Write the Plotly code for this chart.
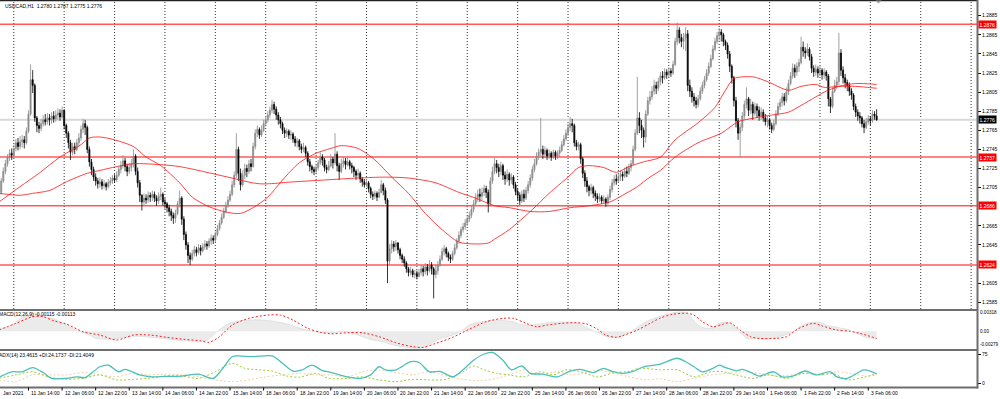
import plotly.graph_objects as go
from datetime import datetime, timedelta

# ---------------- data ----------------
SYMBOL = "USDCAD,H1"
LAST_OHLC = [1.2780, 1.2787, 1.2775, 1.2776]
FIRST_OPEN = 1.2694

CLOSE = [1.2700,1.2712,1.2722,1.2730,1.2737,1.2741,1.2739,1.2746,1.2752,1.2748,
 1.2753,1.2755,1.2752,1.2764,1.2782,1.2818,1.2812,1.2778,1.2770,1.2767,
 1.2772,1.2776,1.2774,1.2778,1.2776,1.2780,1.2777,1.2781,1.2783,1.2779,
 1.2786,1.2770,1.2762,1.2752,1.2742,1.2748,1.2745,1.2752,1.2757,1.2766,
 1.2772,1.2768,1.2745,1.2732,1.2724,1.2716,1.2712,1.2709,1.2711,1.2707,
 1.2709,1.2706,1.2710,1.2712,1.2715,1.2713,1.2718,1.2724,1.2728,1.2733,
 1.2727,1.2722,1.2726,1.2730,1.2738,1.2722,1.2710,1.2697,1.2690,1.2694,
 1.2692,1.2697,1.2695,1.2698,1.2694,1.2691,1.2696,1.2698,1.2690,1.2688,
 1.2684,1.2680,1.2676,1.2673,1.2678,1.2688,1.2694,1.2672,1.2656,1.2645,
 1.2634,1.2630,1.2636,1.2640,1.2637,1.2642,1.2639,1.2643,1.2646,1.2644,
 1.2649,1.2652,1.2650,1.2656,1.2662,1.2668,1.2674,1.2680,1.2686,1.2692,
 1.2698,1.2708,1.2718,1.2745,1.2720,1.2708,1.2718,1.2725,1.2722,1.2730,
 1.2727,1.2748,1.2762,1.2766,1.2760,1.2765,1.2772,1.2776,1.2781,1.2786,
 1.2792,1.2787,1.2781,1.2776,1.2772,1.2765,1.2762,1.2764,1.2760,1.2761,
 1.2756,1.2752,1.2754,1.2748,1.2745,1.2747,1.2741,1.2732,1.2727,1.2724,
 1.2722,1.2726,1.2731,1.2737,1.2734,1.2726,1.2724,1.2728,1.2735,1.2731,
 1.2740,1.2728,1.2722,1.2730,1.2733,1.2729,1.2732,1.2728,1.2726,1.2722,
 1.2718,1.2720,1.2714,1.2711,1.2708,1.2710,1.2704,1.2698,1.2696,1.2699,
 1.2695,1.2700,1.2708,1.2702,1.2692,1.2628,1.2641,1.2646,1.2643,1.2647,
 1.2640,1.2634,1.2630,1.2626,1.2620,1.2616,1.2618,1.2614,1.2615,1.2612,
 1.2616,1.2620,1.2617,1.2622,1.2618,1.2624,1.2620,1.2614,1.2618,1.2624,
 1.2630,1.2638,1.2641,1.2636,1.2632,1.2630,1.2636,1.2642,1.2649,1.2655,
 1.2661,1.2664,1.2668,1.2672,1.2676,1.2682,1.2688,1.2694,1.2698,1.2696,
 1.2700,1.2704,1.2700,1.2688,1.2712,1.2722,1.2730,1.2726,1.2722,1.2728,
 1.2718,1.2714,1.2719,1.2713,1.2716,1.2708,1.2701,1.2697,1.2691,1.2698,
 1.2694,1.2702,1.2708,1.2715,1.2724,1.2730,1.2738,1.2742,1.2745,1.2740,
 1.2744,1.2738,1.2741,1.2737,1.2742,1.2738,1.2741,1.2744,1.2750,1.2756,
 1.2762,1.2768,1.2772,1.2770,1.2752,1.2748,1.2750,1.2735,1.2720,1.2712,
 1.2706,1.2702,1.2705,1.2699,1.2696,1.2693,1.2695,1.2691,1.2693,1.2689,
 1.2695,1.2703,1.2710,1.2714,1.2712,1.2716,1.2719,1.2717,1.2722,1.2720,
 1.2726,1.2730,1.2745,1.2762,1.2778,1.2770,1.2765,1.2758,1.2782,1.2796,
 1.2800,1.2806,1.2812,1.2809,1.2816,1.2822,1.2820,1.2826,1.2823,1.2827,
 1.2825,1.2834,1.2858,1.2870,1.2862,1.2858,1.2862,1.2866,1.2812,1.2806,
 1.2800,1.2796,1.2792,1.2798,1.2806,1.2812,1.2818,1.2825,1.2832,1.2840,
 1.2850,1.2858,1.2864,1.2868,1.2865,1.2858,1.2854,1.2845,1.2832,1.2820,
 1.2796,1.2775,1.2762,1.2768,1.2780,1.2792,1.2798,1.2786,1.2792,1.2783,
 1.2790,1.2786,1.2780,1.2784,1.2778,1.2774,1.2776,1.2770,1.2766,1.2772,
 1.2782,1.2790,1.2794,1.2800,1.2796,1.2805,1.2814,1.2822,1.2830,1.2826,
 1.2832,1.2836,1.2852,1.2848,1.2846,1.2850,1.2842,1.2830,1.2826,1.2829,
 1.2825,1.2828,1.2823,1.2826,1.2822,1.2798,1.2790,1.2806,1.2812,1.2816,
 1.2846,1.2828,1.2820,1.2815,1.2812,1.2806,1.2802,1.2790,1.2784,1.2780,
 1.2778,1.2772,1.2768,1.2774,1.2777,1.2775,1.2782,1.2780,1.2776]

HIGH = [1.2706,1.2715,1.2726,1.2734,1.2740,1.2745,1.2746,1.2750,1.2756,1.2757,
 1.2759,1.2760,1.2759,1.2768,1.2786,1.2834,1.2828,1.2814,1.2780,1.2774,
 1.2777,1.2781,1.2782,1.2783,1.2782,1.2784,1.2785,1.2786,1.2788,1.2787,
 1.2790,1.2787,1.2772,1.2764,1.2755,1.2752,1.2752,1.2756,1.2762,1.2770,
 1.2777,1.2776,1.2770,1.2748,1.2735,1.2727,1.2720,1.2715,1.2716,1.2714,
 1.2713,1.2711,1.2714,1.2716,1.2718,1.2719,1.2722,1.2727,1.2733,1.2739,
 1.2736,1.2730,1.2731,1.2735,1.2745,1.2740,1.2726,1.2713,1.2698,1.2699,
 1.2698,1.2701,1.2700,1.2702,1.2701,1.2697,1.2700,1.2705,1.2700,1.2694,
 1.2690,1.2687,1.2683,1.2679,1.2682,1.2691,1.2702,1.2696,1.2675,1.2659,
 1.2648,1.2637,1.2640,1.2644,1.2643,1.2646,1.2645,1.2647,1.2650,1.2649,
 1.2652,1.2656,1.2655,1.2659,1.2666,1.2671,1.2678,1.2684,1.2690,1.2696,
 1.2702,1.2712,1.2722,1.2762,1.2748,1.2725,1.2723,1.2730,1.2729,1.2734,
 1.2735,1.2752,1.2766,1.2770,1.2768,1.2770,1.2776,1.2780,1.2785,1.2790,
 1.2797,1.2795,1.2790,1.2784,1.2779,1.2774,1.2768,1.2767,1.2766,1.2765,
 1.2763,1.2759,1.2757,1.2756,1.2751,1.2752,1.2749,1.2743,1.2735,1.2729,
 1.2727,1.2730,1.2734,1.2742,1.2740,1.2736,1.2729,1.2733,1.2740,1.2737,
 1.2762,1.2743,1.2731,1.2735,1.2737,1.2736,1.2737,1.2734,1.2731,1.2728,
 1.2724,1.2725,1.2722,1.2716,1.2714,1.2714,1.2712,1.2706,1.2701,1.2702,
 1.2701,1.2704,1.2713,1.2710,1.2705,1.2694,1.2646,1.2650,1.2649,1.2650,
 1.2648,1.2642,1.2636,1.2633,1.2628,1.2622,1.2622,1.2620,1.2619,1.2618,
 1.2620,1.2624,1.2623,1.2626,1.2625,1.2629,1.2627,1.2622,1.2624,1.2628,
 1.2634,1.2642,1.2645,1.2643,1.2638,1.2635,1.2639,1.2646,1.2652,1.2659,
 1.2664,1.2668,1.2672,1.2676,1.2680,1.2686,1.2692,1.2699,1.2703,1.2704,
 1.2705,1.2708,1.2707,1.2703,1.2716,1.2727,1.2736,1.2734,1.2730,1.2732,
 1.2730,1.2722,1.2724,1.2721,1.2720,1.2718,1.2711,1.2704,1.2700,1.2702,
 1.2703,1.2706,1.2712,1.2719,1.2728,1.2735,1.2742,1.2746,1.2778,1.2749,
 1.2748,1.2746,1.2745,1.2743,1.2745,1.2744,1.2744,1.2748,1.2754,1.2760,
 1.2766,1.2772,1.2779,1.2777,1.2772,1.2755,1.2753,1.2752,1.2737,1.2723,
 1.2716,1.2708,1.2709,1.2707,1.2702,1.2699,1.2699,1.2697,1.2697,1.2695,
 1.2698,1.2707,1.2714,1.2718,1.2719,1.2720,1.2723,1.2722,1.2726,1.2727,
 1.2730,1.2734,1.2749,1.2766,1.2821,1.2784,1.2776,1.2768,1.2786,1.2800,
 1.2806,1.2811,1.2818,1.2816,1.2820,1.2826,1.2827,1.2830,1.2829,1.2831,
 1.2830,1.2838,1.2862,1.2878,1.2873,1.2866,1.2867,1.2873,1.2870,1.2818,
 1.2810,1.2804,1.2800,1.2802,1.2810,1.2816,1.2822,1.2829,1.2836,1.2844,
 1.2854,1.2862,1.2868,1.2872,1.2871,1.2867,1.2860,1.2857,1.2848,1.2834,
 1.2822,1.2800,1.2778,1.2772,1.2784,1.2796,1.2810,1.2800,1.2798,1.2795,
 1.2794,1.2793,1.2790,1.2789,1.2787,1.2782,1.2780,1.2778,1.2773,1.2776,
 1.2786,1.2794,1.2798,1.2804,1.2804,1.2810,1.2818,1.2826,1.2835,1.2834,
 1.2836,1.2840,1.2863,1.2858,1.2852,1.2856,1.2852,1.2845,1.2833,1.2834,
 1.2832,1.2833,1.2830,1.2830,1.2828,1.2824,1.2800,1.2810,1.2818,1.2821,
 1.2867,1.2850,1.2832,1.2824,1.2818,1.2815,1.2809,1.2804,1.2793,1.2787,
 1.2784,1.2780,1.2776,1.2778,1.2781,1.2780,1.2786,1.2785,1.2787]

LOW = [1.2693,1.2698,1.2710,1.2719,1.2727,1.2733,1.2734,1.2737,1.2743,1.2744,
 1.2745,1.2747,1.2746,1.2750,1.2762,1.2780,1.2804,1.2774,1.2763,1.2762,
 1.2764,1.2769,1.2770,1.2771,1.2770,1.2772,1.2773,1.2774,1.2776,1.2775,
 1.2777,1.2766,1.2757,1.2746,1.2734,1.2739,1.2740,1.2743,1.2748,1.2754,
 1.2762,1.2760,1.2741,1.2727,1.2718,1.2712,1.2707,1.2704,1.2705,1.2703,
 1.2704,1.2702,1.2704,1.2707,1.2709,1.2710,1.2711,1.2716,1.2720,1.2725,
 1.2722,1.2717,1.2719,1.2722,1.2726,1.2718,1.2705,1.2690,1.2681,1.2686,
 1.2688,1.2689,1.2690,1.2691,1.2690,1.2686,1.2688,1.2692,1.2686,1.2683,
 1.2679,1.2675,1.2670,1.2667,1.2668,1.2676,1.2684,1.2666,1.2650,1.2640,
 1.2626,1.2624,1.2628,1.2633,1.2633,1.2635,1.2634,1.2637,1.2640,1.2640,
 1.2642,1.2645,1.2646,1.2648,1.2654,1.2660,1.2666,1.2672,1.2678,1.2684,
 1.2690,1.2696,1.2705,1.2715,1.2712,1.2702,1.2706,1.2714,1.2716,1.2719,
 1.2722,1.2726,1.2745,1.2758,1.2756,1.2758,1.2763,1.2769,1.2773,1.2778,
 1.2783,1.2782,1.2776,1.2771,1.2767,1.2761,1.2757,1.2758,1.2756,1.2755,
 1.2752,1.2748,1.2747,1.2744,1.2741,1.2742,1.2737,1.2728,1.2722,1.2720,
 1.2718,1.2719,1.2723,1.2729,1.2728,1.2722,1.2720,1.2722,1.2726,1.2725,
 1.2729,1.2722,1.2713,1.2720,1.2726,1.2724,1.2727,1.2724,1.2720,1.2716,
 1.2713,1.2715,1.2710,1.2706,1.2705,1.2706,1.2700,1.2694,1.2692,1.2693,
 1.2691,1.2694,1.2699,1.2697,1.2688,1.2605,1.2624,1.2636,1.2638,1.2639,
 1.2636,1.2630,1.2626,1.2622,1.2616,1.2612,1.2613,1.2611,1.2610,1.2609,
 1.2611,1.2613,1.2612,1.2614,1.2613,1.2616,1.2614,1.2589,1.2610,1.2614,
 1.2622,1.2628,1.2634,1.2632,1.2628,1.2626,1.2628,1.2634,1.2640,1.2646,
 1.2652,1.2658,1.2661,1.2665,1.2669,1.2673,1.2679,1.2686,1.2690,1.2690,
 1.2692,1.2696,1.2694,1.2679,1.2686,1.2709,1.2719,1.2720,1.2716,1.2718,
 1.2713,1.2708,1.2711,1.2707,1.2709,1.2704,1.2697,1.2692,1.2687,1.2689,
 1.2690,1.2692,1.2699,1.2705,1.2712,1.2721,1.2728,1.2734,1.2738,1.2735,
 1.2736,1.2734,1.2735,1.2733,1.2735,1.2734,1.2735,1.2737,1.2742,1.2748,
 1.2754,1.2759,1.2764,1.2763,1.2748,1.2744,1.2744,1.2730,1.2715,1.2706,
 1.2700,1.2696,1.2698,1.2694,1.2691,1.2689,1.2690,1.2688,1.2689,1.2685,
 1.2686,1.2692,1.2700,1.2707,1.2708,1.2710,1.2712,1.2712,1.2715,1.2716,
 1.2718,1.2722,1.2728,1.2743,1.2760,1.2762,1.2757,1.2747,1.2752,1.2780,
 1.2792,1.2797,1.2802,1.2803,1.2806,1.2812,1.2814,1.2818,1.2819,1.2820,
 1.2821,1.2823,1.2832,1.2854,1.2856,1.2852,1.2850,1.2848,1.2806,1.2800,
 1.2794,1.2790,1.2788,1.2789,1.2796,1.2803,1.2809,1.2816,1.2822,1.2830,
 1.2838,1.2848,1.2855,1.2859,1.2858,1.2853,1.2849,1.2840,1.2826,1.2814,
 1.2790,1.2768,1.2755,1.2737,1.2764,1.2777,1.2788,1.2780,1.2782,1.2776,
 1.2780,1.2778,1.2775,1.2776,1.2774,1.2770,1.2768,1.2766,1.2762,1.2764,
 1.2770,1.2780,1.2786,1.2790,1.2791,1.2794,1.2802,1.2812,1.2819,1.2820,
 1.2822,1.2826,1.2834,1.2842,1.2840,1.2843,1.2838,1.2825,1.2821,1.2822,
 1.2820,1.2822,1.2818,1.2819,1.2817,1.2790,1.2783,1.2788,1.2804,1.2808,
 1.2812,1.2822,1.2814,1.2809,1.2806,1.2801,1.2797,1.2786,1.2779,1.2775,
 1.2772,1.2768,1.2762,1.2766,1.2771,1.2770,1.2773,1.2776,1.2775]

# moving averages (sampled along the curves)
MA_FAST_BAR = [0,10,19,29,39,43,48,55,64,70,77,86,92,100,109,115,121,128,135,143,
 151,158,163,171,179,187,195,203,211,219,227,233,236,243,254,262,271,276,281,288,
 294,300,307,315,322,333,341,346,350,359,366,376,382,389,393,400,408,418]
MA_FAST = [1.2690,1.2706,1.2720,1.2737,1.2750,1.2757,1.2758,1.2755,1.2748,1.2737,
 1.2728,1.2710,1.2695,1.2685,1.2679,1.2678,1.2684,1.2695,1.2713,1.2731,
 1.2741,1.2746,1.2749,1.2746,1.2734,1.2716,1.2699,1.2678,1.2661,1.2648,
 1.2646,1.2647,1.2651,1.2661,1.2682,1.2699,1.2716,1.2726,1.2728,1.2726,
 1.2721,1.2727,1.2732,1.2737,1.2755,1.2773,1.2789,1.2807,1.2819,1.2821,
 1.2816,1.2807,1.2811,1.2813,1.2810,1.2811,1.2811,1.2809]
MA_SLOW_BAR = [0,10,16,24,32,42,48,56,64,77,86,109,124,140,155,171,184,195,208,219,
 227,236,243,253,262,272,281,291,297,304,310,315,322,333,344,352,360,368,376,382,
 389,393,400,408,418]
MA_SLOW = [1.2699,1.2697,1.2699,1.2702,1.2711,1.2720,1.2723,1.2727,1.2730,1.2729,
 1.2727,1.2716,1.2709,1.2711,1.2713,1.2715,1.2716,1.2715,1.2710,1.2700,
 1.2694,1.2686,1.2684,1.2680,1.2680,1.2684,1.2686,1.2690,1.2697,1.2706,
 1.2716,1.2723,1.2737,1.2752,1.2762,1.2774,1.2778,1.2781,1.2784,1.2791,
 1.2800,1.2805,1.2811,1.2814,1.2813]

# MACD(12,26,9)
MACD_BAR = [0,3,7,10,13,16,18,21,26,29,32,35,38,42,46,53,59,64,72,80,
 88,96,99,102,105,110,115,123,128,134,139,143,148,153,158,165,170,177,183,186,
 191,197,202,205,210,216,220,224,232,239,245,248,253,256,264,270,277,281,285,289,
 294,299,304,308,315,318,323,328,329,332,335,340,343,347,350,353,356,362,367,372,
 377,380,385,391,394,401,405,409,413,418]
MACD_MAIN = [0.00045,0.00060,0.00110,0.00202,0.00240,0.00281,0.00281,0.00230,0.00202,0.00150,
 0.00097,0.00045,0.0,-0.00040,-0.00112,-0.00125,-0.00100,-0.00080,-0.00095,-0.00120,
 -0.00150,-0.00160,-0.00140,-0.00060,0.00030,0.00130,0.00165,0.00180,0.00170,0.00140,
 0.00097,0.00050,0.00010,-0.00020,-0.00025,-0.00010,-0.00050,-0.00130,-0.00165,-0.00200,
 -0.00240,-0.00265,-0.00260,-0.00200,-0.00120,-0.00060,0.0,0.00100,0.00160,0.00170,
 0.00150,0.00110,0.00090,0.00110,0.00140,0.00145,0.00110,0.00040,-0.00020,-0.00080,
 -0.00100,-0.00040,0.00060,0.00150,0.00235,0.00270,0.00300,0.00290,0.00240,0.00120,
 0.00060,0.00050,0.00130,0.00140,0.00080,-0.00020,-0.00110,-0.00120,-0.00120,-0.00080,
 -0.00030,0.00040,0.00130,0.00140,0.00100,0.00050,0.00020,-0.00040,-0.00100,-0.00115]
SIGNAL_BAR = [0,8,16,21,26,32,40,48,56,64,72,80,88,96,100,105,111,119,128,134,
 140,147,153,158,166,173,181,189,197,202,208,216,224,232,240,245,251,256,261,268,
 275,280,285,289,294,297,304,310,315,321,328,331,335,340,345,348,353,358,362,370,
 375,381,388,392,399,405,410,418]
MACD_SIGNAL = [0.00019,0.00124,0.00228,0.00228,0.00165,0.00113,-0.00008,-0.00060,-0.00138,-0.00060,
 -0.00060,-0.00096,-0.00127,-0.00149,-0.00174,-0.00086,0.00097,0.00203,0.00254,0.00254,
 0.00176,0.00046,-0.00017,-0.00040,-0.00023,-0.00023,-0.00086,-0.00180,-0.00243,-0.00254,
 -0.00190,-0.00096,0.00032,0.00150,0.00202,0.00202,0.00124,0.00071,0.00097,0.00124,
 0.00134,0.00113,0.00032,-0.00060,-0.00096,-0.00070,0.00019,0.00124,0.00208,0.00267,
 0.00281,0.00254,0.00150,0.00071,0.00113,0.00134,0.00019,-0.00086,-0.00112,-0.00112,
 -0.00086,0.00045,0.00124,0.00084,0.00019,0.0,-0.00033,-0.00113]
MACD_SCALE_LABELS = ["0.00318", "0.00", "-0.00279"]
MACD_SCALE_VALUES = [0.00318, 0.0, -0.00279]

# ADX(14)
ADX_BAR = [0,6,11,16,21,25,32,37,41,48,52,57,60,67,73,79,87,95,102,106,
 111,114,121,130,135,140,144,149,154,157,166,172,177,181,184,189,196,200,205,210,
 216,221,226,231,235,240,244,249,253,259,266,272,277,283,288,292,297,302,307,315,
 323,327,331,335,340,343,346,351,354,359,362,369,373,378,384,389,396,399,404,412,418]
ADX = [15,29,29,40,27,12,12,16,14,42,46,29,35,21,16,17,18,23,12,34,
 68,70,68,70,51,31,33,46,32,29,16,12,21,42,34,34,55,53,29,30,
 16,34,59,75,79,59,34,44,25,23,16,31,35,27,38,30,25,30,42,49,
 64,55,42,29,38,46,40,32,35,25,18,29,16,18,31,21,29,16,12,34,23.46]
PDI_BAR = [0,8,16,24,32,40,48,56,64,71,79,87,95,103,111,117,124,130,137,143,
 151,157,166,173,181,189,197,205,213,221,226,231,237,243,250,258,264,270,277,285,
 293,299,305,315,323,331,339,345,351,359,367,375,383,391,397,404,412,418]
PDI = [12,21,29,15,9.5,12,21,8,9.5,12,18,18,12,29,51,38,34,31,18,15,
 25,12,12,16,8,3.4,9.5,8,9.5,29,44,34,25,21,16,29,21,34,29,16,
 27,29,38,34,34,16,29,29,21,12,21,12,25,21,25,8,15,24.17]
MDI_BAR = [0,8,16,24,32,40,48,56,64,71,79,87,95,103,111,119,127,135,143,151,
 158,166,173,181,189,197,205,213,221,229,237,245,250,256,266,272,278,285,293,300,
 308,315,323,331,339,347,354,362,370,378,386,394,399,407,413,418]
MDI = [8,3.4,21,21,21,27,21,16,25,21,23,21,16,8,3.4,8,16,21,25,21,
 21,16,29,34,27,21,29,18,9.5,6,12,25,34,21,29,21,25,34,25,16,
 8,11,3.4,12,21,25,29,25,18,21,25,21,29,23,18,21.40]

LEVELS = [1.2876, 1.2737, 1.2686, 1.2624]
# price scale labels visible in the reference (1.2685 / 1.2625 are hidden under level boxes)
PRICE_TICKS = [1.2885,1.2865,1.2845,1.2825,1.2805,1.2785,1.2765,1.2745,
 1.2725,1.2705,1.2665,1.2645,1.2605,1.2585]
FIRST_TIME_LABEL = "Jan 2021"   # visible part of the first (edge-clipped) time label
TIME_LABELS = ["11 Jan 14:00","12 Jan 06:00","12 Jan 22:00","13 Jan 14:00","14 Jan 06:00",
 "14 Jan 22:00","15 Jan 14:00","18 Jan 06:00","18 Jan 22:00","19 Jan 14:00","20 Jan 06:00",
 "20 Jan 22:00","21 Jan 14:00","22 Jan 06:00","22 Jan 22:00","25 Jan 14:00","26 Jan 06:00",
 "26 Jan 22:00","27 Jan 14:00","28 Jan 06:00","28 Jan 22:00","29 Jan 14:00","1 Feb 06:00",
 "1 Feb 22:00","2 Feb 14:00","3 Feb 06:00"]
MACD_TITLE = "MACD(12,26,9) -0.00115 -0.00113"
ADX_TITLE = "ADX(14) 23.4615 +DI:24.1737 -DI:21.4049"

# ---------------- layout helpers ----------------
W, H = 1000, 399
FONT = "Liberation Sans, Arial, sans-serif"


def py(px):
    return 1 - px / H


X_END = 0.977
MAIN_DOM = [py(309), py(1)]
MACD_DOM = [py(349), py(311)]
ADX_DOM = [py(387), py(351)]

# hourly bar clock (weekends skipped) starting at the first bar
times = []
t = datetime(2021, 1, 11, 0)
while len(times) < 480:
    if t.weekday() < 5:
        times.append(t)
    t += timedelta(hours=1)
bar_of = {f"{d.day} {d.strftime('%b')} {d.strftime('%H:%M')}": i for i, d in enumerate(times)}

bars = list(range(len(CLOSE)))
OPEN = [FIRST_OPEN] + CLOSE[:-1]

fig = go.Figure()

fig.add_trace(go.Candlestick(
    x=bars, open=OPEN, high=HIGH, low=LOW, close=CLOSE,
    increasing=dict(line=dict(color="#8a8a8a", width=0.8), fillcolor="#8a8a8a"),
    decreasing=dict(line=dict(color="#000000", width=0.8), fillcolor="#000000"),
    whiskerwidth=0, xaxis="x", yaxis="y", showlegend=False))

for bx, vals in ((MA_FAST_BAR, MA_FAST), (MA_SLOW_BAR, MA_SLOW)):
    fig.add_trace(go.Scatter(x=bx, y=vals, mode="lines", xaxis="x", yaxis="y",
                             line=dict(color="rgba(255,20,20,0.8)", width=1, shape="spline", smoothing=0.8),
                             hoverinfo="skip", showlegend=False))

# MACD pane
fig.add_trace(go.Scatter(x=MACD_BAR, y=MACD_MAIN, mode="lines", xaxis="x", yaxis="y2",
                         line=dict(color="rgba(180,180,180,0.6)", width=0.5, shape="spline", smoothing=0.7),
                         fill="tozeroy", fillcolor="#d6d6d6",
                         fillpattern=dict(shape="|", size=2, solidity=0.5, fgcolor="#b0b0b0", bgcolor="white"),
                         hoverinfo="skip", showlegend=False))
fig.add_trace(go.Scatter(x=SIGNAL_BAR, y=MACD_SIGNAL, mode="lines", xaxis="x", yaxis="y2",
                         line=dict(color="#ff2020", width=1, dash="2px,2px", shape="spline", smoothing=0.8),
                         hoverinfo="skip", showlegend=False))

# ADX pane
fig.add_trace(go.Scatter(x=MDI_BAR, y=MDI, mode="lines", xaxis="x", yaxis="y3",
                         line=dict(color="#f2cfa6", width=1, dash="2px,2px", shape="spline", smoothing=0.8),
                         hoverinfo="skip", showlegend=False))
fig.add_trace(go.Scatter(x=PDI_BAR, y=PDI, mode="lines", xaxis="x", yaxis="y3",
                         line=dict(color="#9acd32", width=1, dash="2px,2px", shape="spline", smoothing=0.8),
                         hoverinfo="skip", showlegend=False))
fig.add_trace(go.Scatter(x=ADX_BAR, y=ADX, mode="lines", xaxis="x", yaxis="y3",
                         line=dict(color="#4cbfb9", width=1.3, shape="spline", smoothing=0.8),
                         hoverinfo="skip", showlegend=False))

shapes = []
# vertical dotted grid in the price pane
for g in range(7, 466, 24):
    shapes.append(dict(type="line", xref="x", yref="y domain", x0=g, x1=g, y0=0, y1=1,
                       line=dict(color="#333333", width=1, dash="1px,2px"), layer="below"))
# bid line
shapes.append(dict(type="line", xref="x domain", yref="y", x0=0, x1=1,
                   y0=LAST_OHLC[3], y1=LAST_OHLC[3], line=dict(color="#d9d9d9", width=2), layer="below"))
# horizontal levels
for lv in LEVELS:
    shapes.append(dict(type="line", xref="x domain", yref="y", x0=0, x1=1, y0=lv, y1=lv,
                       line=dict(color="rgba(255,60,60,0.85)", width=1.5), layer="below"))
# pane frames
shapes.append(dict(type="line", xref="paper", yref="paper", x0=0, x1=X_END + 0.001,
                   y0=py(0.5), y1=py(0.5), line=dict(color="#222222", width=1.5)))
for yy in (310, 350, 387.5):
    shapes.append(dict(type="line", xref="paper", yref="paper", x0=0, x1=X_END + 0.001,
                       y0=py(yy), y1=py(yy), line=dict(color="#6e6e6e", width=2)))
shapes.append(dict(type="line", xref="paper", yref="paper", x0=X_END + 0.0005, x1=X_END + 0.0005,
                   y0=py(388.5), y1=py(0), line=dict(color="#6e6e6e", width=2)))
# chart-shift marker
shapes.append(dict(type="path", xref="paper", yref="paper",
                   path=f"M 0.8755 {py(0.5)} L 0.8815 {py(0.5)} L 0.8785 {py(3.5)} Z",
                   fillcolor="#9a9a9a", line=dict(width=0)))

annotations = []
annotations.append(dict(xref="paper", yref="paper", x=0, y=py(5.5), xshift=3, xanchor="left",
                        yanchor="middle", showarrow=False,
                        text=f"{SYMBOL}  " + " ".join(f"{v:.4f}" for v in LAST_OHLC),
                        font=dict(family=FONT, size=5, color="#000")))
for lv in LEVELS:
    annotations.append(dict(xref="paper", yref="y", x=X_END + 0.001, y=lv, xanchor="left",
                            yanchor="middle", showarrow=False, text=f"{lv:.4f}", bgcolor="#ff0000",
                            borderpad=0.6, font=dict(family=FONT, size=5, color="#ffffff")))
annotations.append(dict(xref="paper", yref="y", x=X_END + 0.001, y=LAST_OHLC[3], xanchor="left",
                        yanchor="middle", showarrow=False, text=f"{LAST_OHLC[3]:.4f}", bgcolor="#000000",
                        borderpad=0.6, font=dict(family=FONT, size=5, color="#ffffff")))
annotations.append(dict(xref="paper", yref="paper", x=0, y=py(314), xshift=-3, xanchor="left",
                        yanchor="middle", showarrow=False, text=MACD_TITLE,
                        font=dict(family=FONT, size=5, color="#000")))
annotations.append(dict(xref="paper", yref="paper", x=0, y=py(354.5), xshift=-3, xanchor="left",
                        yanchor="middle", showarrow=False, text=ADX_TITLE,
                        font=dict(family=FONT, size=5, color="#000")))
for txt, val, sh in zip(MACD_SCALE_LABELS, MACD_SCALE_VALUES, (-1.5, -0.5, 4.5)):
    annotations.append(dict(xref="paper", yref="y2", x=X_END + 0.0015, y=val, yshift=sh,
                            xanchor="left", yanchor="middle", showarrow=False, text=txt,
                            font=dict(family=FONT, size=4.6, color="#000")))
annotations.append(dict(xref="paper", yref="paper", x=0, y=py(392.5), xshift=1, xanchor="left",
                        yanchor="middle", showarrow=False, text=FIRST_TIME_LABEL,
                        font=dict(family=FONT, size=5, color="#000")))
for lab in TIME_LABELS:
    b = bar_of[lab]
    annotations.append(dict(xref="x", yref="paper", x=b, y=py(392.5), xshift=0.5, xanchor="left",
                            yanchor="middle", showarrow=False, text=lab,
                            font=dict(family=FONT, size=5, color="#000")))
    shapes.append(dict(type="line", xref="x", yref="paper", x0=b, x1=b, y0=py(387.5), y1=py(390.5),
                       line=dict(color="#000", width=1)))

axis_common = dict(showgrid=False, zeroline=False, showline=False, fixedrange=True)

fig.update_layout(
    width=W, height=H, autosize=False,
    margin=dict(l=0, r=0, t=0, b=0, pad=0),
    paper_bgcolor="white", plot_bgcolor="white",
    showlegend=False, hovermode=False,
    xaxis=dict(domain=[0, X_END], range=[0.43, 465.8], visible=False,
               rangeslider=dict(visible=False), **axis_common),
    yaxis=dict(domain=MAIN_DOM, range=[1.25779, 1.29004], side="right", anchor="x",
               tickmode="array", tickvals=PRICE_TICKS, ticktext=[f"{v:.4f}" for v in PRICE_TICKS],
               ticks="outside", ticklen=3, tickwidth=1, tickcolor="#000",
               tickfont=dict(family=FONT, size=5, color="#000"), **axis_common),
    yaxis2=dict(domain=MACD_DOM, range=[-0.00279, 0.00318], anchor="x", side="right",
                showticklabels=False, ticks="", **axis_common),
    yaxis3=dict(domain=ADX_DOM, range=[-10.34, 82.76], anchor="x", side="right",
                tickmode="array", tickvals=[0, 75], ticktext=["0", "75"],
                ticks="outside", ticklen=3, tickwidth=1, tickcolor="#000",
                tickfont=dict(family=FONT, size=5, color="#000"), **axis_common),
    shapes=shapes, annotations=annotations,
)

fig.write_html("out.html", config={"displayModeBar": False},
               post_script="document.body.style.margin='0';document.body.style.overflow='hidden';")
